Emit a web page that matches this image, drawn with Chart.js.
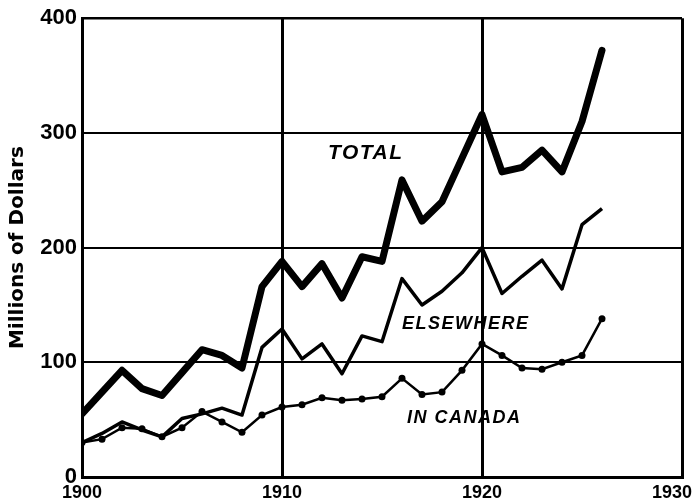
<!DOCTYPE html>
<html>
<head>
<meta charset="utf-8">
<script src="https://cdn.jsdelivr.net/npm/chart.js@4/dist/chart.umd.min.js"></script>
<style>
html,body{margin:0;padding:0;background:#fff;}
#wrap{width:694px;height:503px;}
</style>
</head>
<body>
<div id="wrap"><canvas id="c" width="694" height="503"></canvas></div>
<script>
const years = [1900,1901,1902,1903,1904,1905,1906,1907,1908,1909,1910,1911,1912,1913,1914,1915,1916,1917,1918,1919,1920,1921,1922,1923,1924,1925,1926];
const total = [55,74,93,77,71,91,111,106,95,166,188,166,186,156,192,188,259,223,240,278,316,266,270,285,266,310,372];
const elsewhere = [30,38,48,41,35,51,55,60,54,113,129,103,116,90,123,118,173,150,162,178,200,160,175,189,164,220,234];
const inCanada = [30,33,43,42,35,43,57,48,39,54,61,63,69,67,68,70,86,72,74,93,116,106,95,94,100,106,138];
const xTicks = [1900,1910,1920,1930];
const yTicks = [0,100,200,300,400];
const seriesLabels = [
  {text:'TOTAL', year:1912.3, value:277, size:21},
  {text:'ELSEWHERE', year:1916.0, value:129, size:18},
  {text:'IN CANADA', year:1916.25, value:47, size:18}
];

const pts = arr => years.map((y,i)=>({x:y,y:arr[i]}));

const labelPlugin = {
  id:'seriesText',
  afterDatasetsDraw(chart){
    const {ctx, scales:{x,y}} = chart;
    ctx.save();
    ctx.fillStyle = '#000';
    ctx.textAlign = 'left';
    ctx.textBaseline = 'alphabetic';
    seriesLabels.forEach(l=>{
      ctx.font = 'italic bold '+l.size+'px "Liberation Sans", Arial, sans-serif';
      if (ctx.letterSpacing !== undefined) ctx.letterSpacing = '1.5px';
      ctx.fillText(l.text, x.getPixelForValue(l.year), y.getPixelForValue(l.value));
    });
    ctx.restore();
  }
};

new Chart(document.getElementById('c'), {
  type:'line',
  data:{
    datasets:[
      {label:'Total', data:pts(total), borderColor:'#000', borderWidth:7, pointRadius:0, tension:0, borderJoinStyle:'round', borderCapStyle:'round'},
      {label:'Elsewhere', data:pts(elsewhere), borderColor:'#000', borderWidth:3.5, pointRadius:0, tension:0, borderJoinStyle:'round'},
      {label:'In Canada', data:pts(inCanada), borderColor:'#000', borderWidth:2.5, pointRadius:3.5, pointBackgroundColor:'#000', pointBorderWidth:0, tension:0}
    ]
  },
  options:{
    responsive:false,
    animation:false,
    events:[],
    layout:{padding:{top:18,right:12,left:0,bottom:0}},
    plugins:{legend:{display:false}, tooltip:{enabled:false}},
    scales:{
      x:{
        type:'linear', min:1900, max:1930,
        afterBuildTicks(s){ s.ticks = xTicks.map(v=>({value:v})); },
        afterFit(s){ s.height = 26; s.paddingLeft = 0; s.paddingRight = 0; },
        grid:{color:'#000', lineWidth:3, drawTicks:false},
        border:{display:true, color:'#000', width:3},
        ticks:{color:'#000', padding:5, maxRotation:0, autoSkip:false,
          font:{family:'"Liberation Sans", Arial, sans-serif', size:18, weight:'bold'},
          callback:v=> v===1930 ? '1930    ' : String(v)}
      },
      y:{
        min:0, max:400,
        afterBuildTicks(s){ s.ticks = yTicks.map(v=>({value:v})); },
        afterFit(s){ s.width = 82; },
        grid:{color:'#000', lineWidth:c=> (c.tick && (c.tick.value===400)) ? 2.5 : 2, drawTicks:false},
        border:{display:true, color:'#000', width:3},
        ticks:{color:'#000', padding:5,
          font:{family:'"Liberation Sans", Arial, sans-serif', size:22, weight:'bold'}},
        title:{display:true, text:'Millions of Dollars', color:'#000', padding:{top:6,bottom:0},
          font:{family:'"DejaVu Sans", sans-serif', size:20, weight:'bold'}}
      }
    }
  },
  plugins:[labelPlugin]
});
</script>
</body>
</html>
